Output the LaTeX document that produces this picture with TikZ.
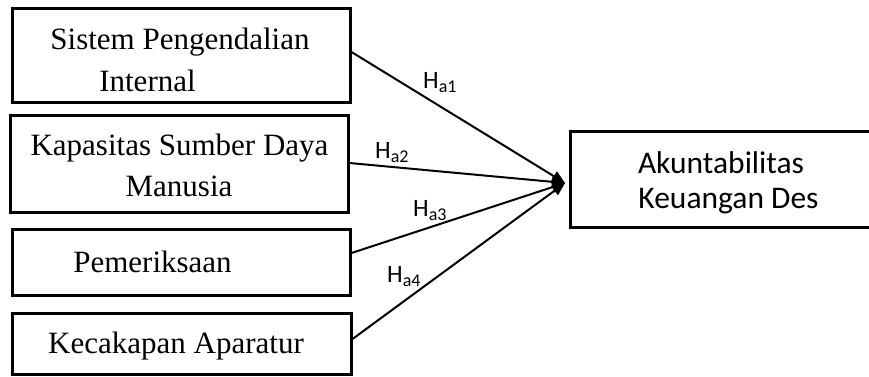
\documentclass[tikz,border=0pt]{standalone}
\usepackage{fontspec}
\setmainfont{Liberation Serif}
\newfontfamily\calibrifont{Carlito}
\usetikzlibrary{arrows.meta}

\tikzset{
  varbox/.style={draw, line width=3pt, rectangle, inner sep=0pt, fill=none},
  serifline/.style={anchor=base, inner sep=0pt, font=\fontsize{31}{31}\selectfont},
  sansline/.style={anchor=base, inner sep=0pt, font=\calibrifont\fontsize{31.5}{31.5}\selectfont},
  hyplabel/.style={anchor=base west, inner sep=0pt, font=\calibrifont\fontsize{25}{25}\selectfont},
  hyppath/.style={line width=2pt, -{Triangle[length=13pt,width=11pt]}}
}
\newcommand{\hyp}[1]{H\raisebox{-4.5pt}{\fontsize{18}{18}\selectfont #1}}

\begin{document}
\begin{tikzpicture}[x=1pt,y=-1pt]
  \useasboundingbox (0,0) rectangle (869,376);
  \clip (0,0) rectangle (869,376);
  \fill[white] (0,0) rectangle (869,376);

  % independent variables
  \node[varbox, minimum width=338pt, minimum height=94pt]   (b1) at (181,55.5) {};
  \node[varbox, minimum width=338pt, minimum height=97.5pt] (b2) at (179,164) {};
  \node[varbox, minimum width=338pt, minimum height=66pt]   (b3) at (181,262) {};
  \node[varbox, minimum width=339pt, minimum height=61pt]   (b4) at (181.5,343.5) {};

  \node[serifline] (t1a) at (180,49)   {Sistem Pengendalian};
  \node[serifline] (t1b) at (147.5,91) {Internal};
  \node[serifline] (t2a) at (179.5,155) {Kapasitas Sumber Daya};
  \node[serifline] (t2b) at (179,196)  {Manusia};
  \node[serifline] (t3)  at (152.5,272) {Pemeriksaan};
  \node[serifline] (t4)  at (176,353)  {Kecakapan Aparatur};

  % dependent variable (runs past the right margin)
  \node[varbox, anchor=west, minimum width=400pt, minimum height=96pt] (r) at (569,179) {};
  \node[sansline] (ra) at (721,173)   {Akuntabilitas};
  \node[sansline] (rb) at (728.5,208) {Keuangan Des};

  % hypothesised paths
  \coordinate (tip) at (565,183);
  \draw[hyppath] ([yshift=3.5pt]b1.east) -- (tip);
  \draw[hyppath] ([yshift=1pt]b2.east) -- (tip);
  \draw[hyppath] ([yshift=9pt]b3.east) -- (tip);
  \draw[hyppath] ([yshift=4.5pt]b4.east) -- (tip);

  \node[hyplabel] (h1) at (423,88)  {\hyp{a1}};
  \node[hyplabel] (h2) at (375,158) {\hyp{a2}};
  \node[hyplabel] (h3) at (413,216) {\hyp{a3}};
  \node[hyplabel] (h4) at (387,282) {\hyp{a4}};
\end{tikzpicture}
\end{document}
